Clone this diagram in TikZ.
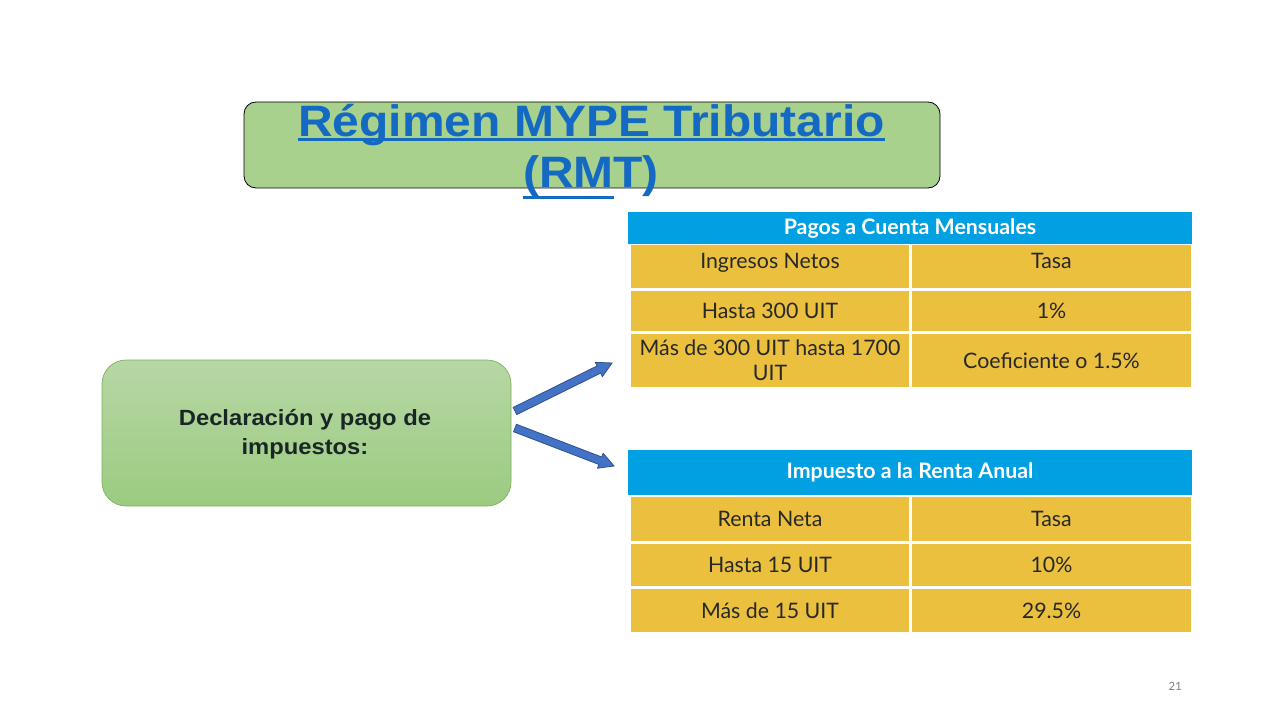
\documentclass[tikz,border=0pt]{standalone}
\usepackage{fontspec}
\setmainfont{Liberation Sans}
\newfontfamily\tabfont{Lato}
\newfontfamily\numfont{Carlito}
\usetikzlibrary{calc}
\definecolor{titleblue}{RGB}{20,105,195}
\definecolor{titlegreen}{RGB}{169,209,142}
\definecolor{boxtop}{RGB}{183,215,165}
\definecolor{boxbot}{RGB}{155,203,128}
\definecolor{boxline}{RGB}{122,176,90}
\definecolor{arrowfill}{RGB}{68,114,196}
\definecolor{arrowline}{RGB}{47,82,143}
\definecolor{hdrblue}{RGB}{0,160,227}
\definecolor{cellyel}{RGB}{234,192,62}
\definecolor{celltext}{RGB}{40,40,40}
\definecolor{darktext}{RGB}{25,38,38}
\newcommand\myul[2]{\setbox0\hbox{#1}\rlap{\rule[#2]{\wd0}{0.068em}}\box0}
\tikzset{
  hdr/.style={fill=hdrblue, text=white, font=\tabfont\bfseries\fontsize{16}{18}\selectfont, inner sep=0pt, minimum width=564*0.75pt},
  cell/.style={fill=cellyel, text=celltext, font=\tabfont\fontsize{16}{18.5}\selectfont, inner sep=0pt, align=center},
  lcell/.style={cell, minimum width=278*0.75pt},
  rcell/.style={cell, minimum width=279*0.75pt},
  blockarrow/.style={fill=arrowfill, draw=arrowline, line width=0.6pt, line join=miter},
}
\newcommand\blockarr[2]{%
  \coordinate (hb) at ($(#2)!11pt!(#1)$);
  \filldraw[blockarrow] ($(#1)!3pt!90:(#2)$) -- ($(hb)!3pt!-90:(#1)$) -- ($(hb)!6pt!-90:(#1)$) -- (#2)
    -- ($(hb)!6pt!90:(#1)$) -- ($(hb)!3pt!90:(#1)$) -- ($(#1)!3pt!-90:(#2)$) -- cycle;}
\begin{document}
\begin{tikzpicture}[x=0.75pt,y=-0.75pt]
\useasboundingbox[fill=white] (0,0) rectangle (1280,720);
% title box
\node[draw=black, line width=0.6pt, fill=titlegreen, rounded corners=9pt, minimum width=696*0.75pt, minimum height=86*0.75pt, inner sep=0pt] (title) at (592,145) {};
\node[anchor=base, text=titleblue, font=\bfseries\fontsize{33}{38}\selectfont, inner sep=0pt] (t1) at (591.5,137) {\scalebox{1.09}[1]{\myul{Régimen MYPE Tributario}{-0.1em}}};
\node[anchor=base, text=titleblue, font=\bfseries\fontsize{33}{38}\selectfont, inner sep=0pt] (t2) at (591,188) {\scalebox{1.09}[1]{\myul{(RM}{-0.25em}T)}};
% left box
\node[draw=boxline, line width=0.5pt, top color=boxtop, bottom color=boxbot, rounded corners=18pt, minimum width=409*0.75pt, minimum height=146*0.75pt, inner sep=0pt] (decl) at (306.5,433) {};
\node[text=darktext, font=\bfseries\fontsize{16.5}{21.5}\selectfont, align=center, inner sep=0pt] (decltext) at (305,434) {\scalebox{1.08}[1]{Declaración y pago de}\\\scalebox{1.08}[1]{impuestos:}};
% arrows
\coordinate (a1) at (515,411);
\coordinate (b1) at (612,363);
\coordinate (a2) at (515,428);
\coordinate (b2) at (614,466);
\blockarr{a1}{b1}
\blockarr{a2}{b2}
% table 1
\node[hdr, minimum height=32*0.75pt] (h1) at (910,228) {Pagos a Cuenta Mensuales};
\node[lcell, minimum height=43*0.75pt, text depth=8pt] (t1r1l) at (770,266.5) {Ingresos Netos};
\node[rcell, minimum height=43*0.75pt, text depth=8pt] (t1r1r) at (1051.5,266.5) {Tasa};
\node[lcell, minimum height=40*0.75pt] (t1r2l) at (770,311) {Hasta 300 UIT};
\node[rcell, minimum height=40*0.75pt] (t1r2r) at (1051.5,311) {1\%};
\node[lcell, minimum height=53*0.75pt] (t1r3l) at (770,360.5) {Más de 300 UIT hasta 1700\\UIT};
\node[rcell, minimum height=53*0.75pt] (t1r3r) at (1051.5,360.5) {Coeficiente o 1.5\%};
% table 2
\node[hdr, minimum height=45*0.75pt] (h2) at (910,472.5) {Impuesto a la Renta Anual};
\node[lcell, minimum height=44*0.75pt] (t2r1l) at (770,519) {Renta Neta};
\node[rcell, minimum height=44*0.75pt] (t2r1r) at (1051.5,519) {Tasa};
\node[lcell, minimum height=42*0.75pt] (t2r2l) at (770,565) {Hasta 15 UIT};
\node[rcell, minimum height=42*0.75pt] (t2r2r) at (1051.5,565) {10\%};
\node[lcell, minimum height=43*0.75pt] (t2r3l) at (770,610.5) {Más de 15 UIT};
\node[rcell, minimum height=43*0.75pt] (t2r3r) at (1051.5,610.5) {29.5\%};
% page number
\node[text=gray, font=\numfont\fontsize{9.5}{11}\selectfont, inner sep=0pt] (pg) at (1175,686) {21};
\end{tikzpicture}
\end{document}
